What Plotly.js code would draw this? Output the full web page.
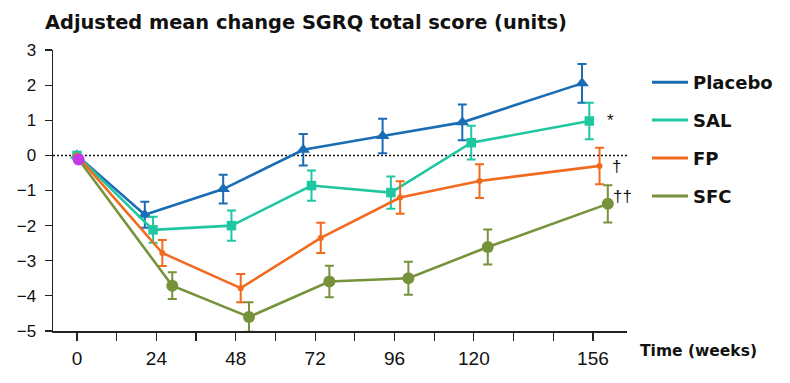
<!DOCTYPE html>
<html>
<head>
<meta charset="utf-8">
<script src="https://cdn.plot.ly/plotly-3.0.1.min.js"></script>
<style>
html,body{margin:0;padding:0;background:#fff;}
#chart{width:790px;height:383px;}
</style>
</head>
<body>
<div id="chart"></div>
<script>
// Nominal visit times (weeks) and tick labels
const tickWeeks = [0,12,24,36,48,60,72,84,96,108,120,132,144,156];
const tickLabels = ["0","","24","","48","","72","","96","","120","","","156"];
const seriesNames = ["Placebo","SAL","FP","SFC"];

// Plotted (dodged) time positions
const placeboX = [0, 20.5, 44.2, 68.4, 92.4, 116.5, 152.7];
const salX     = [0, 23.0, 46.7, 70.9, 94.9, 119.2, 154.9];
const fpX      = [0, 25.8, 49.5, 73.7, 97.7, 121.7, 158.0];
const sfcX     = [0.5, 28.8, 52.0, 76.3, 100.2, 124.2, 160.5];

// Adjusted mean change in SGRQ total score (units)
const placeboY = [0, -1.69, -0.96, 0.16, 0.55, 0.94, 2.05];
const salY     = [0, -2.12, -2.00, -0.86, -1.06, 0.36, 0.98];
const fpY      = [0, -2.78, -3.78, -2.35, -1.20, -0.73, -0.30];
const sfcY     = [-0.12, -3.71, -4.60, -3.59, -3.50, -2.61, -1.38];

// Standard errors
const placeboErr = [null, 0.37, 0.41, 0.45, 0.49, 0.51, 0.55];
const salErr     = [null, 0.37, 0.43, 0.43, 0.46, 0.48, 0.52];
const fpErr      = [null, 0.37, 0.40, 0.43, 0.46, 0.48, 0.52];
const sfcErr     = [null, 0.38, 0.42, 0.45, 0.47, 0.50, 0.53];

// Significance marks at week 156
const sigMarks = ["*", "\u2020", "\u2020\u2020"];
const sigX = [161.2, 163.2, 165.0];
const sigY = [1.00, -0.32, -1.17];

const colors = ["#1a6db5", "#1fc7a0", "#f26a1e", "#76933c"];
const FONT = "Liberation Sans, Arial, Helvetica, sans-serif";
const BOLD = "DejaVu Sans, Liberation Sans, Arial, sans-serif";

function errBar(arr, c){
  return {type:'data', array:arr, visible:true, color:c, thickness:2, width:4.5};
}

const data = [
  {x: placeboX, y: placeboY, error_y: errBar(placeboErr, colors[0]), mode:'lines+markers',
   line:{color:colors[0], width:2.6}, marker:{symbol:'triangle-up', size:12, color:colors[0]},
   showlegend:false},
  {x: salX, y: salY, error_y: errBar(salErr, colors[1]), mode:'lines+markers',
   line:{color:colors[1], width:2.6}, marker:{symbol:'square', size:9.5, color:colors[1]},
   showlegend:false},
  {x: fpX, y: fpY, error_y: errBar(fpErr, colors[2]), mode:'lines+markers',
   line:{color:colors[2], width:2.6}, marker:{symbol:'circle', size:6, color:colors[2]},
   showlegend:false},
  {x: sfcX, y: sfcY, error_y: errBar(sfcErr, colors[3]), mode:'lines+markers',
   line:{color:colors[3], width:2.6},
   marker:{symbol:'circle', size:12, color:sfcY.map((v,i)=> i===0 ? '#c23be6' : colors[3])},
   showlegend:false}
];
// legend-only line entries
seriesNames.forEach((n,i)=>{
  data.push({x:[null], y:[null], mode:'lines', name:n, legendgroup:n,
    line:{color:colors[i], width:3}, showlegend:true});
});

const annotations = sigMarks.map((t,i)=>({
  x: sigX[i], y: sigY[i], xref:'x', yref:'y', text:t, showarrow:false,
  xanchor:'center', yanchor:'middle', font:{family:FONT, size:17, color:'#111'}
}));
annotations.push({
  xref:'paper', yref:'paper', x:1.019, y:-0.072, xanchor:'left', yanchor:'middle',
  text:'<b>Time (weeks)</b>', showarrow:false, font:{family:BOLD, size:15.5, color:'#111'}
});

const layout = {
  width:790, height:383,
  margin:{l:53, r:163, t:50, b:52},
  paper_bgcolor:'#fff', plot_bgcolor:'#fff',
  font:{family:FONT, color:'#111'},
  title:{text:'<b>Adjusted mean change SGRQ total score (units)</b>',
    x:45/790, xanchor:'left', xref:'container', y:1-22/383, yanchor:'middle', yref:'container',
    font:{family:BOLD, size:19.4, color:'#111'}},
  xaxis:{range:[-7.26,166.3], tickvals:tickWeeks, ticktext:tickLabels,
    showgrid:false, zeroline:false, showline:true, linecolor:'#222', linewidth:1.5,
    ticks:'outside', ticklen:8, tickwidth:1.2, tickcolor:'#222', ticklabelstandoff:2,
    tickfont:{family:FONT, size:19, color:'#111'}, fixedrange:true},
  yaxis:{range:[-5,3], tickvals:[-5,-4,-3,-2,-1,0,1,2,3],
    showgrid:false, zeroline:false, showline:true, linecolor:'#222', linewidth:1.5,
    ticks:'outside', ticklen:7, tickwidth:1.2, tickcolor:'#222', ticklabelstandoff:5,
    tickfont:{family:FONT, size:17, color:'#111'}, fixedrange:true},
  shapes:[{type:'line', xref:'paper', x0:0, x1:1, yref:'y', y0:0, y1:0,
    line:{color:'#111', width:1.5, dash:'2px,2px'}, layer:'below'}],
  annotations: annotations,
  legend:{xref:'container', yref:'container', x:647/790, xanchor:'left', y:1-64/383, yanchor:'top',
    font:{family:BOLD, size:18, color:'#111', weight:'bold'},
    itemwidth:36, tracegroupgap:11.5, bgcolor:'rgba(0,0,0,0)'},
  showlegend:true
};

Plotly.newPlot('chart', data, layout, {displayModeBar:false, staticPlot:true});
</script>
</body>
</html>
